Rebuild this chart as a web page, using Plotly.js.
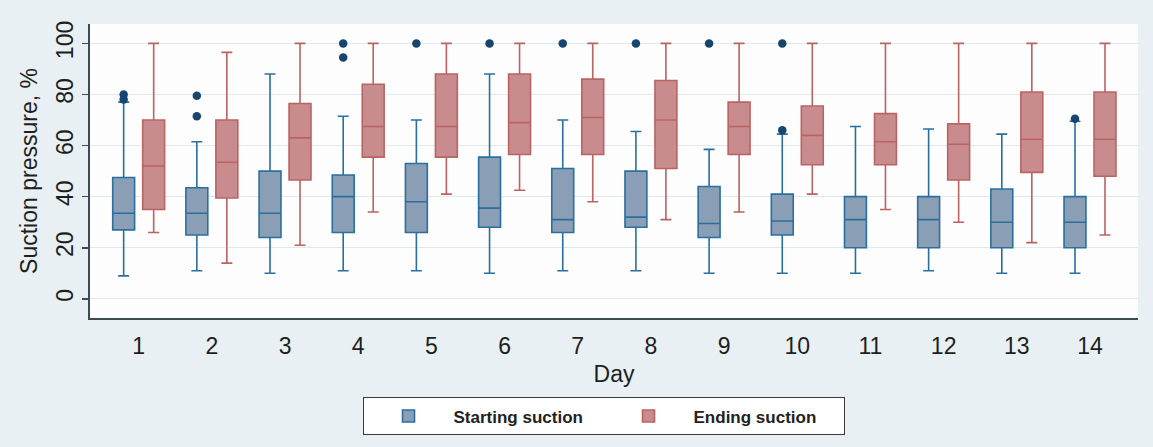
<!DOCTYPE html>
<html>
<head>
<meta charset="utf-8">
<script src="https://cdn.plot.ly/plotly-3.0.1.min.js"></script>
<style>html,body{margin:0;padding:0;background:#e8f0f3;}</style>
</head>
<body>
<div id="chart" style="width:1153px;height:447px;"></div>
<script>
// Day categories
var days = ['1','2','3','4','5','6','7','8','9','10','11','12','13','14'];

// Starting suction (box stats, %)
var startLower  = [9, 11, 10, 11, 11, 10, 11, 11, 10, 10, 10, 11, 10, 10];
var startQ1     = [27, 25, 24, 26, 26, 28, 26, 28, 24, 25, 20, 20, 20, 20];
var startMedian = [33.5, 33.5, 33.5, 40, 38, 35.5, 31, 32, 29.5, 30.5, 31, 31, 30, 30];
var startQ3     = [47.5, 43.5, 50, 48.5, 53, 55.5, 51, 50, 44, 41, 40, 40, 43, 40];
var startUpper  = [77, 61.5, 88, 71.5, 70, 88, 70, 65.5, 58.5, 64.5, 67.5, 66.5, 64.5, 69.5];
var startOutliers = [[80, 78], [79.5, 71.5], [], [100, 94.5], [100], [100], [100], [100], [100], [100, 66], [], [], [], [70.5]];

// Ending suction (box stats, %)
var endLower  = [26, 14, 21, 34, 41, 42.5, 38, 31, 34, 41, 35, 30, 22, 25];
var endQ1     = [35, 39.5, 46.5, 55.5, 55.5, 56.5, 56.5, 51, 56.5, 52.5, 52.5, 46.5, 49.5, 48];
var endMedian = [52, 53.5, 63, 67.5, 67.5, 69, 71, 70, 67.5, 64, 61.5, 60.5, 62.5, 62.5];
var endQ3     = [70, 70, 76.5, 84, 88, 88, 86, 85.5, 77, 75.5, 72.5, 68.5, 81, 81];
var endUpper  = [100, 96.5, 100, 100, 100, 100, 100, 100, 100, 100, 100, 100, 100, 100];

var yTicks = [0, 20, 40, 60, 80, 100];

var traceStart = {
  type: 'box',
  name: 'Starting suction',
  x: days,
  y: startOutliers,
  q1: startQ1, median: startMedian, q3: startQ3,
  lowerfence: startLower, upperfence: startUpper,
  boxpoints: 'outliers', jitter: 0, pointpos: 0,
  fillcolor: '#8a9fb6',
  line: {color: '#2a6f9e', width: 1.6},
  marker: {color: '#16466f', size: 8.5, outliercolor: '#16466f', line: {width: 0}},
  whiskerwidth: 0.5
};
var traceEnd = {
  type: 'box',
  name: 'Ending suction',
  x: days,
  q1: endQ1, median: endMedian, q3: endQ3,
  lowerfence: endLower, upperfence: endUpper,
  boxpoints: false,
  fillcolor: '#c98c8e',
  line: {color: '#bb6262', width: 1.6},
  whiskerwidth: 0.5
};

var layout = {
  width: 1153, height: 447,
  paper_bgcolor: '#e8f0f3',
  plot_bgcolor: '#fdfdfd',
  margin: {l: 90, r: 15, t: 24, b: 126},
  font: {family: 'Liberation Sans, Arial, sans-serif', color: '#1e1e1e'},
  boxmode: 'group',
  boxgap: 0.18,
  boxgroupgap: 0.27,
  showlegend: true,
  xaxis: {
    type: 'category',
    range: [-0.665, 13.656],
    showline: true, linecolor: '#3d4a52', linewidth: 2,
    ticks: '', showgrid: false, zeroline: false,
    tickfont: {size: 23},
    ticklabelstandoff: 6,
    title: {text: 'Day', font: {size: 23}, standoff: 8}
  },
  yaxis: {
    range: [-7.5, 107.6],
    tickvals: yTicks,
    ticktext: yTicks.map(String),
    tickangle: -90,
    ticks: 'outside', ticklen: 6, tickcolor: '#3d4a52', tickwidth: 1.5,
    showline: true, linecolor: '#3d4a52', linewidth: 2,
    showgrid: true, gridcolor: '#dfeaf0', gridwidth: 1,
    zeroline: false,
    tickfont: {size: 23},
    title: {text: 'Suction pressure, %', font: {size: 23}, standoff: 8}
  },
  legend: {
    orientation: 'h',
    x: 0.49, xanchor: 'center',
    y: -0.27, yanchor: 'top',
    bgcolor: '#ffffff',
    bordercolor: '#3a3a3a', borderwidth: 1,
    font: {size: 17, weight: 'bold', color: '#222'},
    entrywidth: 145,
    itemwidth: 80
  }
};

Plotly.newPlot('chart', [traceStart, traceEnd], layout, {displayModeBar: false, staticPlot: true});
</script>
</body>
</html>
